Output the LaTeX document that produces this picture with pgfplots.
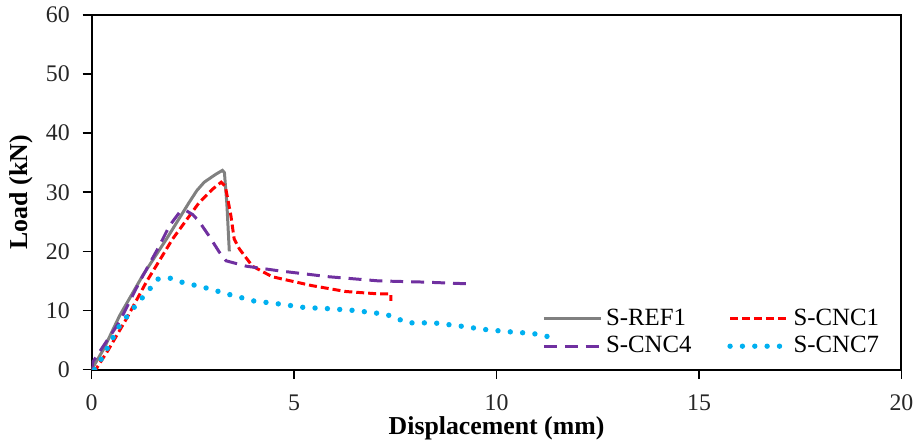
\documentclass[border=0pt]{standalone}
\usepackage{fontspec}
\setmainfont{Liberation Serif}
\usepackage{pgfplots}
\pgfplotsset{compat=1.18}

\definecolor{refgray}{RGB}{128,128,128}
\definecolor{cncred}{RGB}{255,0,0}
\definecolor{cncpurple}{RGB}{112,48,160}
\definecolor{cncblue}{RGB}{0,176,240}

\begin{document}
\begin{tikzpicture}
\begin{axis}[
  scale only axis,
  width=406.5bp, height=178bp,
  xmin=0, xmax=20, ymin=0, ymax=60,
  xtick={0,5,10,15,20}, ytick={0,10,20,30,40,50,60},
  xtick pos=bottom, ytick pos=left,
  tick align=outside,
  major tick length=4.5bp,
  axis line style={line width=1pt},
  tick style={line width=0.8pt, black},
  /pgf/number format/assume math mode=true,
  tick label style={font=\fontsize{12}{14}\selectfont, text=black!85},
  xticklabel style={yshift=-4.5bp},
  yticklabel style={xshift=-3bp},
  xlabel={\textbf{Displacement (mm)}},
  ylabel={\textbf{Load (kN)}},
  label style={font=\fontsize{13}{15}\selectfont},
  xlabel style={yshift=4bp},
  ylabel style={yshift=-0.5bp},
  legend columns=2,
  legend cell align=left,
  legend style={draw=none, fill=none, at={(rel axis cs:0.985,0.015)}, anchor=south east,
    font=\fontsize{12.5}{14}\selectfont, row sep=0bp,
    /tikz/every even column/.append style={column sep=16bp}},
  legend image code/.code={\draw[#1] (0bp,0bp) -- (28.5bp,0bp);},
]
\addplot[refgray, line width=1.5bp] coordinates {
  (0,0) (0.3,3.5) (0.69,9.1) (1.26,15.9) (1.85,22.1) (2.41,28.3) (2.6,30.3)
  (2.78,31.7) (2.95,32.5) (3.08,33.1) (3.23,33.7) (3.28,33.3) (3.34,28) (3.4,20)
};
\addlegendentry{S-REF1}
\addplot[cncred, line width=1.5bp, dash pattern=on 4bp off 2bp] coordinates {
  (0,0) (0.12,0.2) (0.4,3.2) (0.86,8.6) (1.35,14.8) (2.0,22.1) (2.66,28.3)
  (3.0,30.6) (3.2,31.7) (3.3,31.0) (3.35,29.3) (3.44,26.0) (3.52,22.1)
  (3.65,20.4) (3.97,17.5) (4.46,15.7) (5.44,14.2) (6.28,13.2) (7.09,12.8)
  (7.39,12.8) (7.39,11.6)
};
\addlegendentry{S-CNC1}
\addplot[cncpurple, line width=1.5bp, dash pattern=on 6.5bp off 4bp] coordinates {
  (0,0) (0.03,1.3) (0.69,8.1) (1.18,14.8) (1.67,20.9) (1.92,24.3) (2.17,26.6)
  (2.33,26.9) (2.5,26.2) (2.66,25.0) (2.9,22.6) (3.15,19.9) (3.32,18.4)
  (3.81,17.5) (4.63,16.7) (5.86,15.7) (7.09,15.0) (8.2,14.8) (9.31,14.5)
};
\addlegendentry{S-CNC4}
\addplot[cncblue, line width=2.7bp, line cap=round, dash pattern=on 0bp off 6.2bp] coordinates {
  (0.07,0) (0.25,1.9) (0.69,7.4) (1.06,10.6) (1.48,14.0) (1.63,15.3) (1.92,15.5)
  (2.22,14.8) (2.83,13.8) (3.4,12.7) (4.01,11.6) (4.63,11.1) (5.25,10.5)
  (5.86,10.3) (6.48,10.0) (7.09,9.5) (7.39,9.1) (7.66,8.3) (7.83,7.9)
  (8.45,7.9) (9.06,7.4) (9.68,6.8) (10.3,6.4) (10.9,6.1) (11.25,5.6)
};
\addlegendentry{S-CNC7}
\end{axis}
\path (current axis.south west) ++(-46bp,-35bp) rectangle ([xshift=7.5bp,yshift=7.5bp]current axis.north east);
\end{tikzpicture}
\end{document}
